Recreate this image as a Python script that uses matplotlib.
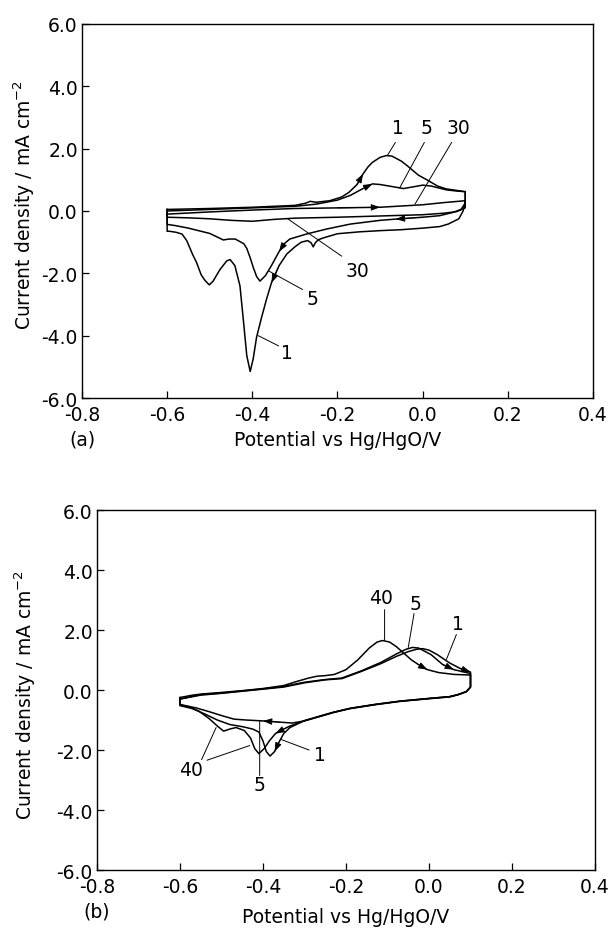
import matplotlib
matplotlib.use("Agg")
import matplotlib.pyplot as plt

plt.rcParams["font.family"] = ["DejaVu Sans"]

# ---------------- panel (a) ----------------
# each cycle: anodic sweep (-0.6 -> 0.1 V) then cathodic sweep (0.1 -> -0.6 V)
a1_an_x = [-0.6, -0.5, -0.4, -0.3, -0.275, -0.264, -0.25, -0.218, -0.19, -0.173, -0.154, -0.14,
           -0.128, -0.118, -0.1, -0.085, -0.072, -0.05, -0.036, -0.01, 0.01, 0.035, 0.055, 0.08, 0.1]
a1_an_y = [0.05, 0.08, 0.12, 0.18, 0.25, 0.31, 0.28, 0.33, 0.45, 0.6, 0.85, 1.19,
           1.42, 1.56, 1.72, 1.78, 1.76, 1.6, 1.45, 1.15, 1.0, 0.8, 0.71, 0.66, 0.62]
a1_ca_x = [0.1, 0.095, 0.085, 0.06, 0.04, 0.0, -0.05, -0.1, -0.15, -0.2, -0.23, -0.245, -0.252,
           -0.257, -0.262, -0.27, -0.285, -0.3, -0.319, -0.337, -0.355, -0.366, -0.378, -0.39,
           -0.398, -0.405, -0.413, -0.421, -0.429, -0.441, -0.452, -0.46, -0.476, -0.492, -0.501,
           -0.511, -0.52, -0.531, -0.54, -0.554, -0.565, -0.58, -0.595, -0.6]
a1_ca_y = [0.3, 0.0, -0.25, -0.42, -0.5, -0.55, -0.6, -0.63, -0.67, -0.73, -0.85, -0.92, -1.02,
           -1.15, -1.02, -0.95, -1.0, -1.15, -1.38, -1.75, -2.3, -2.8, -3.4, -4.05,
           -4.75, -5.15, -4.64, -3.5, -2.4, -1.75, -1.56, -1.6, -1.88, -2.25, -2.37,
           -2.23, -2.05, -1.65, -1.4, -0.95, -0.74, -0.68, -0.65, -0.65]

a5_an_x = [-0.6, -0.5, -0.4, -0.3, -0.25, -0.2, -0.17, -0.14, -0.118, -0.1, -0.07, -0.045,
           -0.02, 0.0, 0.02, 0.055, 0.08, 0.1]
a5_an_y = [0.0, 0.05, 0.1, 0.15, 0.22, 0.35, 0.5, 0.72, 0.87, 0.85, 0.78, 0.72,
           0.78, 0.83, 0.8, 0.68, 0.64, 0.62]
a5_ca_x = [0.1, 0.09, 0.07, 0.04, 0.0, -0.063, -0.1, -0.17, -0.226, -0.273, -0.312, -0.325,
           -0.337, -0.347, -0.355, -0.369, -0.382, -0.39, -0.398, -0.405, -0.413, -0.42, -0.44,
           -0.455, -0.468, -0.48, -0.5, -0.55, -0.58, -0.6]
a5_ca_y = [0.25, 0.05, -0.05, -0.15, -0.2, -0.26, -0.3, -0.42, -0.58, -0.74, -0.9, -1.05,
           -1.3, -1.55, -1.75, -2.07, -2.25, -2.1, -1.8, -1.5, -1.2, -1.05, -0.9,
           -0.9, -0.93, -0.85, -0.72, -0.55, -0.47, -0.43]

a30_an_x = [-0.6, -0.5, -0.4, -0.3, -0.2, -0.1, 0.0, 0.05, 0.1]
a30_an_y = [-0.1, -0.03, 0.03, 0.08, 0.1, 0.12, 0.2, 0.27, 0.33]
a30_ca_x = [0.1, 0.08, 0.05, 0.0, -0.1, -0.2, -0.3, -0.35, -0.4, -0.45, -0.5, -0.55, -0.6]
a30_ca_y = [0.1, -0.02, -0.07, -0.12, -0.16, -0.2, -0.23, -0.27, -0.33, -0.3, -0.25, -0.22, -0.2]

# ---------------- panel (b) ----------------
b40_an_x = [-0.6, -0.57, -0.546, -0.5, -0.45, -0.4, -0.35, -0.32, -0.29, -0.27, -0.25, -0.228,
            -0.2, -0.172, -0.144, -0.125, -0.112, -0.095, -0.079, -0.06, -0.042, -0.02, -0.004,
            0.024, 0.061, 0.1]
b40_an_y = [-0.25, -0.17, -0.13, -0.08, -0.02, 0.05, 0.15, 0.28, 0.4, 0.46, 0.48, 0.52,
            0.68, 1.0, 1.4, 1.6, 1.65, 1.6, 1.45, 1.22, 1.0, 0.8, 0.68,
            0.58, 0.52, 0.5]
b40_ca_x = [0.1, 0.09, 0.07, 0.05, 0.0, -0.07, -0.13, -0.19, -0.23, -0.27, -0.3, -0.335, -0.35,
            -0.37, -0.385, -0.397, -0.41, -0.42, -0.43, -0.445, -0.465, -0.48, -0.495, -0.51,
            -0.53, -0.555, -0.58, -0.6]
b40_ca_y = [0.1, -0.05, -0.15, -0.22, -0.28, -0.37, -0.48, -0.61, -0.74, -0.9, -1.02, -1.2, -1.3,
            -1.45, -1.7, -1.95, -2.12, -1.95, -1.6, -1.35, -1.25, -1.3, -1.37, -1.2,
            -0.95, -0.7, -0.55, -0.5]

b5_an_x = [-0.6, -0.55, -0.5, -0.45, -0.4, -0.35, -0.3, -0.25, -0.21, -0.163, -0.116, -0.079,
           -0.055, -0.04, -0.025, 0.005, 0.033, 0.06, 0.1]
b5_an_y = [-0.3, -0.15, -0.1, -0.03, 0.04, 0.12, 0.26, 0.35, 0.4, 0.64, 0.92, 1.2,
           1.36, 1.42, 1.4, 1.18, 0.85, 0.68, 0.55]
b5_ca_x = [0.1, 0.09, 0.07, 0.05, 0.0, -0.07, -0.13, -0.19, -0.23, -0.27, -0.3, -0.33, -0.36,
           -0.4, -0.44, -0.47, -0.5, -0.53, -0.56, -0.6]
b5_ca_y = [0.1, -0.06, -0.16, -0.23, -0.29, -0.38, -0.49, -0.62, -0.75, -0.91, -1.03, -1.1, -1.07,
           -1.03, -1.0, -0.97, -0.85, -0.72, -0.6, -0.48]

b1_an_x = [-0.6, -0.55, -0.5, -0.45, -0.4, -0.35, -0.3, -0.25, -0.21, -0.163, -0.116, -0.079,
           -0.05, -0.03, -0.015, 0.0, 0.02, 0.05, 0.075, 0.1]
b1_an_y = [-0.3, -0.17, -0.11, -0.04, 0.03, 0.1, 0.24, 0.34, 0.38, 0.62, 0.88, 1.12,
           1.28, 1.36, 1.38, 1.33, 1.18, 0.9, 0.72, 0.6]
b1_ca_x = [0.1, 0.09, 0.07, 0.05, 0.0, -0.07, -0.13, -0.19, -0.23, -0.27, -0.3, -0.335, -0.35,
           -0.362, -0.372, -0.383, -0.392, -0.4, -0.41, -0.425, -0.45, -0.48, -0.51, -0.54,
           -0.57, -0.6]
b1_ca_y = [0.1, -0.05, -0.15, -0.22, -0.28, -0.37, -0.48, -0.61, -0.74, -0.9, -1.02, -1.25, -1.45,
           -1.75, -2.05, -2.2, -2.05, -1.7, -1.4, -1.3, -1.22, -1.15, -1.0, -0.8,
           -0.62, -0.52]

X_TICKS = [-0.8, -0.6, -0.4, -0.2, 0.0, 0.2, 0.4]
Y_TICKS = [-6.0, -4.0, -2.0, 0.0, 2.0, 4.0, 6.0]
XLABEL = "Potential vs Hg/HgO/V"
YLABEL = "Current density / mA cm$^{-2}$"

# cycle numbers and their leader lines (start, end)
LABELS_A = [("1", (-0.059, 2.68)), ("5", (0.01, 2.68)), ("30", (0.083, 2.68)),
            ("30", (-0.152, -1.91)), ("5", (-0.259, -2.82)), ("1", (-0.318, -4.53))]
LEADERS_A = [((-0.064, 2.2), (-0.082, 1.8)), ((0.004, 2.2), (-0.054, 0.74)),
             ((0.068, 2.2), (-0.018, 0.22)), ((-0.19, -1.45), (-0.318, -0.24)),
             ((-0.282, -2.52), (-0.362, -1.92)), ((-0.338, -4.33), (-0.386, -4.0))]
LABELS_B = [("40", (-0.116, 3.09)), ("5", (-0.032, 2.87)), ("1", (0.07, 2.21)),
            ("1", (-0.262, -2.15)), ("5", (-0.408, -3.15)), ("40", (-0.574, -2.65))]
LEADERS_B = [((-0.107, 2.68), (-0.107, 1.66)), ((-0.036, 2.55), (-0.05, 1.42)),
             ((0.066, 1.85), (0.042, 1.02)), ((-0.289, -2.0), (-0.356, -1.65)),
             ((-0.408, -2.85), (-0.408, -1.01)), ((-0.548, -2.32), (-0.513, -1.25)),
             ((-0.535, -2.34), (-0.432, -1.85))]

# arrowheads: (x list, y list, index) -> arrow from point i to point i+1
ARROWS_A = [
    (a1_an_x, a1_an_y, 10), (a5_an_x, a5_an_y, 7), (a30_an_x, a30_an_y, 4),
    (a5_ca_x, a5_ca_y, 4), (a5_ca_x, a5_ca_y, 11), (a1_ca_x, a1_ca_y, 19),
]
ARROWS_B = [
    (b40_an_x, b40_an_y, 21), (b5_an_x, b5_an_y, 16), (b1_an_x, b1_an_y, 18),
    (b5_ca_x, b5_ca_y, 12), (b40_ca_x, b40_ca_y, 12), (b1_ca_x, b1_ca_y, 13),
]

FS = 13.5


def draw_cycle(ax, an_x, an_y, ca_x, ca_y):
    xs = an_x + ca_x + an_x[:1]
    ys = an_y + ca_y + an_y[:1]
    ax.plot(xs, ys, color="black", lw=1.1, solid_joinstyle="round")


def style_axes(ax, tag, tag_y, xlab_y, ylab_x, ylab_y):
    ax.set_xlim(-0.8, 0.4)
    ax.set_ylim(-6.0, 6.0)
    ax.set_xticks(X_TICKS)
    ax.set_yticks(Y_TICKS)
    ax.set_xticklabels([f"{t:.1f}" for t in X_TICKS])
    ax.set_yticklabels([f"{t:.1f}" for t in Y_TICKS])
    ax.tick_params(direction="in", length=5, width=0.9, labelsize=FS,
                   top=False, right=False)
    ax.tick_params(axis="x", pad=5)
    ax.tick_params(axis="y", pad=3)
    for sp in ax.spines.values():
        sp.set_linewidth(1.0)
    ax.text(ylab_x, ylab_y, YLABEL, transform=ax.transAxes, rotation=90,
            ha="center", va="center", fontsize=FS)
    ax.text(0.5, xlab_y, XLABEL, transform=ax.transAxes, ha="center", va="center", fontsize=FS)
    ax.text(0.0, tag_y, tag, transform=ax.transAxes, ha="center", va="center", fontsize=FS)


def add_labels(ax, labels, leaders):
    for start, end in leaders:
        ax.annotate("", xy=end, xytext=start,
                    arrowprops=dict(arrowstyle="-", lw=0.7, color="black",
                                    shrinkA=0, shrinkB=0))
    for text, pos in labels:
        ax.text(pos[0], pos[1], text, ha="center", va="center", fontsize=FS)


def add_arrows(ax, arrows):
    for xs, ys, i in arrows:
        ax.annotate("", xy=(xs[i + 1], ys[i + 1]), xytext=(xs[i], ys[i]),
                    arrowprops=dict(arrowstyle="-|>,head_length=0.55,head_width=0.2",
                                    lw=0.6, color="black", shrinkA=0, shrinkB=0))


fig = plt.figure(figsize=(6.09, 9.29), dpi=100)
ax_a = fig.add_axes([0.1346, 0.5705, 0.8391, 0.4026])
ax_b = fig.add_axes([0.1593, 0.0624, 0.8177, 0.3875])

draw_cycle(ax_a, a1_an_x, a1_an_y, a1_ca_x, a1_ca_y)
draw_cycle(ax_a, a5_an_x, a5_an_y, a5_ca_x, a5_ca_y)
draw_cycle(ax_a, a30_an_x, a30_an_y, a30_ca_x, a30_ca_y)
add_arrows(ax_a, ARROWS_A)
add_labels(ax_a, LABELS_A, LEADERS_A)
style_axes(ax_a, "(a)", -0.11, -0.11, -0.112, 0.52)

draw_cycle(ax_b, b40_an_x, b40_an_y, b40_ca_x, b40_ca_y)
draw_cycle(ax_b, b5_an_x, b5_an_y, b5_ca_x, b5_ca_y)
draw_cycle(ax_b, b1_an_x, b1_an_y, b1_ca_x, b1_ca_y)
add_arrows(ax_b, ARROWS_B)
add_labels(ax_b, LABELS_B, LEADERS_B)
style_axes(ax_b, "(b)", -0.115, -0.128, -0.145, 0.49)

fig.savefig("out.png", dpi=100)
